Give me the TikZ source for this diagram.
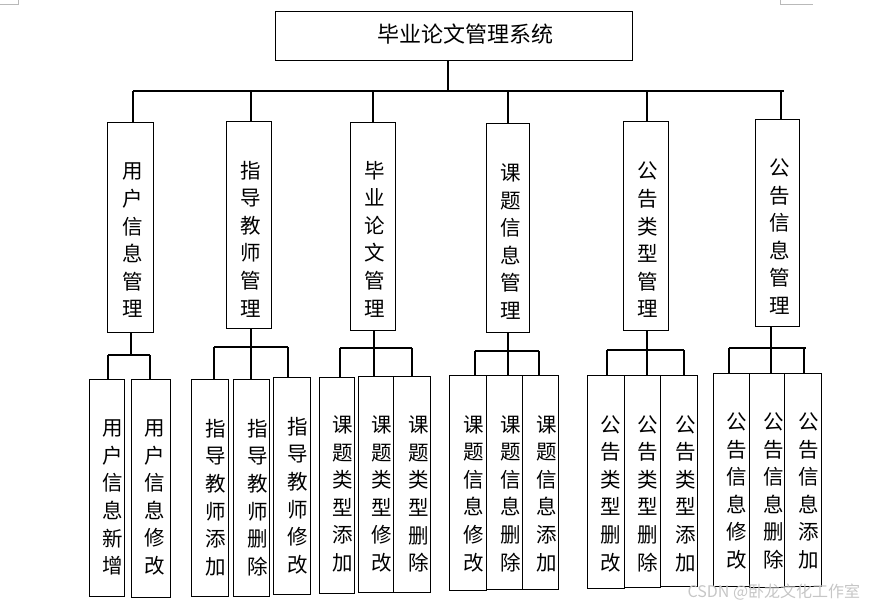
\documentclass[tikz,border=0pt]{standalone}
\usepackage{fontspec}
\newfontfamily\cjk{Noto Sans CJK SC}
\begin{document}
\begin{tikzpicture}[x=1pt,y=-1pt,line width=1.2pt,
  box/.style={draw,line width=1.2pt,inner sep=0pt,anchor=north west},
  vt/.style={font=\cjk\fontsize{20.5}{27.6}\selectfont,align=center,inner sep=0pt},
  cornermark/.style={draw=gray!55,line width=0.8pt}]
\useasboundingbox (0,0) rectangle (872,606);
% page corner marks
\draw[cornermark] (0,4) -- (18,4) -- (18,0);
\draw[cornermark] (780,0) -- (780,4) -- (813,4);
% top
\node[box,minimum width=357pt,minimum height=49pt] (top) at (275,11) {};
\node[font=\cjk\fontsize{22}{22}\selectfont,inner sep=0pt] (tt) at (465,34) {毕业论文管理系统};
% level 2 boxes
\node[box,minimum width=46pt,minimum height=210pt] (m1) at (107,122) {};
\node[box,minimum width=45pt,minimum height=207pt] (m2) at (226,121) {};
\node[box,minimum width=45pt,minimum height=208pt] (m3) at (350,122) {};
\node[box,minimum width=43pt,minimum height=209pt] (m4) at (486,123) {};
\node[box,minimum width=45pt,minimum height=209pt] (m5) at (623,121) {};
\node[box,minimum width=44pt,minimum height=207pt] (m6) at (755,119) {};
\node[vt] (t1) at (133,240.5) {用\\户\\信\\息\\管\\理};
\node[vt] (t2) at (251,239) {指\\导\\教\\师\\管\\理};
\node[vt] (t3) at (375,239) {毕\\业\\论\\文\\管\\理};
\node[vt] (t4) at (511,241.5) {课\\题\\信\\息\\管\\理};
\node[vt] (t5) at (648,240) {公\\告\\类\\型\\管\\理};
\node[vt] (t6) at (780,236.5) {公\\告\\信\\息\\管\\理};
% level 3 boxes
\node[box,minimum width=35pt,minimum height=217pt] (a) at (89,379) {};
\node[box,minimum width=39pt,minimum height=218pt] (b) at (131,379) {};
\node[box,minimum width=37pt,minimum height=217pt] (c) at (191,379) {};
\node[box,minimum width=36pt,minimum height=217pt] (d) at (233,379) {};
\node[box,minimum width=37pt,minimum height=217pt] (e) at (273,377) {};
\node[box,minimum width=35pt,minimum height=216pt] (f) at (319,377) {};
\node[box,minimum width=35pt,minimum height=216pt] (g) at (358,376) {};
\node[box,minimum width=37pt,minimum height=216pt] (h) at (393,376) {};
\node[box,minimum width=37pt,minimum height=215pt] (i) at (449,375) {};
\node[box,minimum width=36pt,minimum height=214pt] (j) at (486,375) {};
\node[box,minimum width=36pt,minimum height=214pt] (k) at (522,375) {};
\node[box,minimum width=37pt,minimum height=213pt] (l) at (587,375) {};
\node[box,minimum width=36pt,minimum height=212pt] (m) at (624,375) {};
\node[box,minimum width=37pt,minimum height=211pt] (n) at (660,375) {};
\node[box,minimum width=36pt,minimum height=213pt] (o) at (713,373) {};
\node[box,minimum width=35pt,minimum height=214pt] (p) at (749,373) {};
\node[box,minimum width=37pt,minimum height=213pt] (q) at (784,373) {};
% level 3 texts
\node[vt] (ta) at (113,497.5) {用\\户\\信\\息\\新\\增};
\node[vt] (tb) at (155,497.5) {用\\户\\信\\息\\修\\改};
\node[vt] (tc) at (216,497.5) {指\\导\\教\\师\\添\\加};
\node[vt] (td) at (258,497.5) {指\\导\\教\\师\\删\\除};
\node[vt] (te) at (298,495.5) {指\\导\\教\\师\\修\\改};
\node[vt] (tf) at (343,494) {课\\题\\类\\型\\添\\加};
\node[vt] (tg) at (382,494) {课\\题\\类\\型\\修\\改};
\node[vt] (th) at (419,494) {课\\题\\类\\型\\删\\除};
\node[vt] (ti) at (474,493.5) {课\\题\\信\\息\\修\\改};
\node[vt] (tj) at (511,493.5) {课\\题\\信\\息\\删\\除};
\node[vt] (tk) at (547,493.5) {课\\题\\信\\息\\添\\加};
\node[vt] (tl) at (611,493.5) {公\\告\\类\\型\\删\\改};
\node[vt] (tm) at (648,493.5) {公\\告\\类\\型\\删\\除};
\node[vt] (tn) at (686,493.5) {公\\告\\类\\型\\添\\加};
\node[vt] (to) at (737,491) {公\\告\\信\\息\\修\\改};
\node[vt] (tp) at (774,491) {公\\告\\信\\息\\删\\除};
\node[vt] (tq) at (809,491) {公\\告\\信\\息\\添\\加};
% top connectors
\coordinate (tj0) at (448,91);
\draw (top.south -| tj0) -- (tj0);
\coordinate (d1) at (133,91); \coordinate (d2) at (251,91); \coordinate (d3) at (373,91);
\coordinate (d4) at (508,91); \coordinate (d5) at (647,91); \coordinate (d6) at (781,91);
\coordinate (busR) at (784,91);
\draw (d1) -- (busR);
\draw (d1) -- (d1 |- m1.north);
\draw (d2) -- (d2 |- m2.north);
\draw (d3) -- (d3 |- m3.north);
\draw (d4) -- (d4 |- m4.north);
\draw (d5) -- (d5 |- m5.north);
\draw (d6) -- (d6 |- m6.north);
% group 1
\coordinate (g1) at (131,355); \coordinate (g1a) at (108,355); \coordinate (g1b) at (150,355);
\draw (m1.south -| g1) -- (g1);
\draw (g1a) -- (g1b);
\draw (g1a) -- (g1a |- a.north);
\draw (g1b) -- (g1b |- b.north);
% group 2
\coordinate (g2) at (251,347); \coordinate (g2a) at (214,347); \coordinate (g2c) at (288,347);
\draw (m2.south -| g2) -- (g2);
\draw (g2a) -- (g2c);
\draw (g2a) -- (g2a |- c.north);
\draw (g2) -- (g2 |- d.north);
\draw (g2c) -- (g2c |- e.north);
% group 3
\coordinate (g3) at (374,348); \coordinate (g3a) at (340,348); \coordinate (g3c) at (412,348);
\draw (m3.south -| g3) -- (g3);
\draw (g3a) -- (g3c);
\draw (g3a) -- (g3a |- f.north);
\draw (g3) -- (g3 |- g.north);
\draw (g3c) -- (g3c |- h.north);
% group 4
\coordinate (g4) at (508,351); \coordinate (g4a) at (475,351); \coordinate (g4c) at (539,351);
\draw (m4.south -| g4) -- (g4);
\draw (g4a) -- (g4c);
\draw (g4a) -- (g4a |- i.north);
\draw (g4) -- (g4 |- j.north);
\draw (g4c) -- (g4c |- k.north);
% group 5
\coordinate (g5) at (647,350); \coordinate (g5a) at (607,350); \coordinate (g5c) at (684,350);
\draw (m5.south -| g5) -- (g5);
\draw (g5a) -- (g5c);
\draw (g5a) -- (g5a |- l.north);
\draw (g5) -- (g5 |- m.north);
\draw (g5c) -- (g5c |- n.north);
% group 6
\coordinate (g6) at (771,348); \coordinate (g6a) at (729,348); \coordinate (g6c) at (806,348); \coordinate (g6d) at (804,348);
\draw (m6.south -| g6) -- (g6);
\draw (g6a) -- (g6c);
\draw (g6a) -- (g6a |- o.north);
\draw (g6) -- (g6 |- p.north);
\draw (g6d) -- (g6d |- q.north);
% watermark
\node[anchor=west,text=gray!45,font=\cjk\fontsize{16}{16}\selectfont,inner sep=0pt] (wm) at (687,592) {CSDN @卧龙文化工作室};
\end{tikzpicture}
\end{document}
